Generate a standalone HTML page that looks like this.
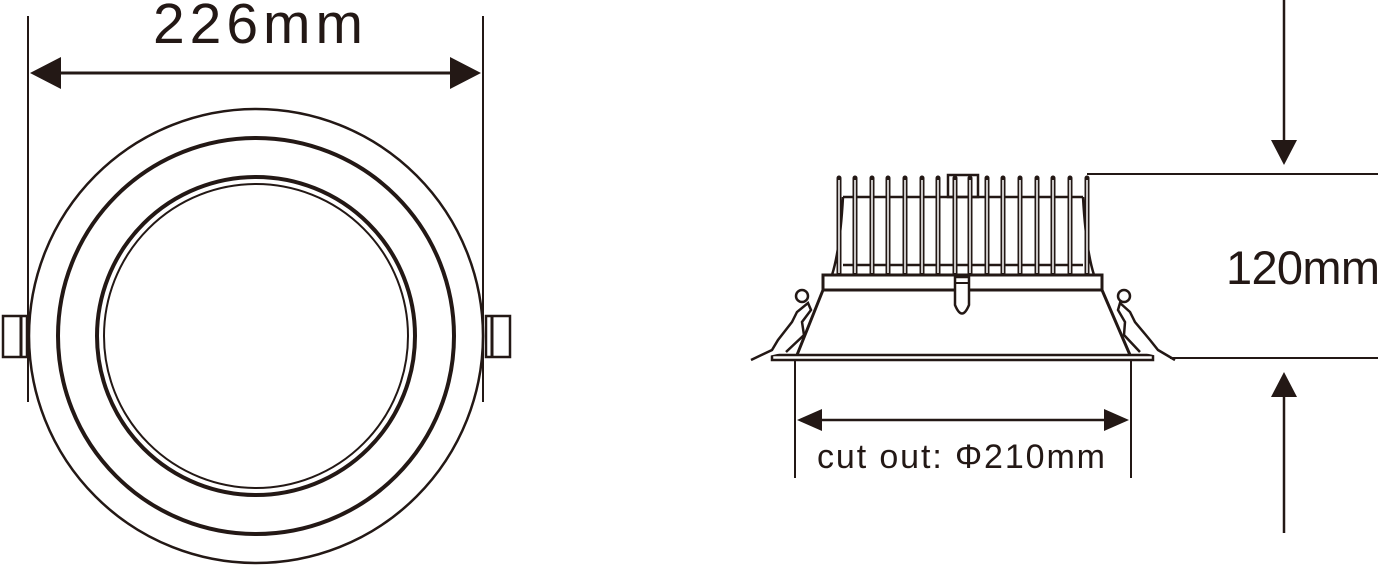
<!DOCTYPE html>
<html><head><meta charset="utf-8"><style>
html,body{margin:0;padding:0;background:#fff;}
svg{display:block;}
text{font-family:"Liberation Sans",Arial,sans-serif;fill:#231815;}
</style></head><body>
<svg width="1380" height="566" viewBox="0 0 1380 566" xmlns="http://www.w3.org/2000/svg">
<g stroke="#231815" fill="none">
<line x1="28" y1="16" x2="28" y2="402" stroke-width="2"/>
<line x1="483" y1="16" x2="483" y2="402" stroke-width="2"/>
<line x1="55" y1="73" x2="458" y2="73" stroke-width="3"/>
<circle cx="256" cy="336" r="227" stroke-width="2.5"/>
<circle cx="256" cy="336" r="198" stroke-width="4"/>
<circle cx="256" cy="336" r="159" stroke-width="4"/>
<circle cx="256" cy="336" r="152" stroke-width="2"/>
<rect x="3" y="316" width="24" height="41" stroke-width="2.5" fill="#fff"/>
<line x1="21" y1="316" x2="21" y2="357" stroke-width="3"/>
<rect x="486" y="316" width="24" height="41" stroke-width="2.5" fill="#fff"/>
<line x1="492" y1="316" x2="492" y2="357" stroke-width="3"/>
</g>
<polygon points="30,73 61,57 61,89" fill="#231815"/>
<polygon points="481,73 450,57 450,89" fill="#231815"/>
<text x="153" y="43" font-size="57" textLength="210" lengthAdjust="spacing">226mm</text>

<g stroke="#231815" fill="none" stroke-width="2">
<line x1="843" y1="197" x2="1083" y2="197" stroke-width="2.5"/>
<line x1="843" y1="265" x2="1083" y2="265" stroke-width="2.5"/>
<path d="M843 197 Q840 250 832 275" stroke-width="2.5"/>
<path d="M1083 197 Q1086 250 1094 275" stroke-width="2.5"/>
<rect x="948" y="175" width="30" height="22" stroke-width="2.5"/>
<g stroke-width="5" stroke-linecap="round">
<line x1="839" y1="178" x2="839" y2="275"/><line x1="855" y1="178" x2="855" y2="275"/>
<line x1="872" y1="178" x2="872" y2="275"/><line x1="888" y1="178" x2="888" y2="275"/>
<line x1="905" y1="178" x2="905" y2="275"/><line x1="922" y1="178" x2="922" y2="275"/>
<line x1="938" y1="178" x2="938" y2="275"/><line x1="955" y1="178" x2="955" y2="275"/>
<line x1="970" y1="178" x2="970" y2="275"/><line x1="987" y1="178" x2="987" y2="275"/>
<line x1="1003" y1="178" x2="1003" y2="275"/><line x1="1020" y1="178" x2="1020" y2="275"/>
<line x1="1037" y1="178" x2="1037" y2="275"/><line x1="1053" y1="178" x2="1053" y2="275"/>
<line x1="1070" y1="178" x2="1070" y2="275"/><line x1="1087" y1="178" x2="1087" y2="275"/>
</g>
<g stroke="#fff" stroke-width="1.5">
<line x1="839" y1="180" x2="839" y2="273"/><line x1="855" y1="180" x2="855" y2="273"/>
<line x1="872" y1="180" x2="872" y2="273"/><line x1="888" y1="180" x2="888" y2="273"/>
<line x1="905" y1="180" x2="905" y2="273"/><line x1="922" y1="180" x2="922" y2="273"/>
<line x1="938" y1="180" x2="938" y2="273"/><line x1="955" y1="180" x2="955" y2="273"/>
<line x1="970" y1="180" x2="970" y2="273"/><line x1="987" y1="180" x2="987" y2="273"/>
<line x1="1003" y1="180" x2="1003" y2="273"/><line x1="1020" y1="180" x2="1020" y2="273"/>
<line x1="1037" y1="180" x2="1037" y2="273"/><line x1="1053" y1="180" x2="1053" y2="273"/>
<line x1="1070" y1="180" x2="1070" y2="273"/><line x1="1087" y1="180" x2="1087" y2="273"/>
</g>
<rect x="823" y="275" width="279" height="15" fill="#fff" stroke-width="3"/>
<path d="M823 290 L797 355 M1102 290 L1130 355" stroke-width="3"/>
<path d="M955 277 L955 305 Q962 322 969 305 L969 277 Z" fill="#fff" stroke-width="2.5"/>
<line x1="955" y1="283" x2="969" y2="283"/>
<rect x="772" y="355" width="381" height="5" fill="#fff" stroke-width="2.5"/>
<path d="M751 360 L772 350 L778 340 L792 322 L797 312 L808 303 L811 310 L802 322 L804 335 L786 352" stroke-width="2.5" fill="#fff"/>
<circle cx="802" cy="296" r="6" stroke-width="2.5" fill="#fff"/>
<path d="M1175 360 L1158 350 L1150 340 L1135 322 L1130 312 L1120 303 L1118 310 L1125 322 L1124 335 L1140 352" stroke-width="2.5" fill="#fff"/>
<circle cx="1124" cy="296" r="6" stroke-width="2.5" fill="#fff"/>
<line x1="1087" y1="174" x2="1378" y2="174"/>
<line x1="1170" y1="358" x2="1378" y2="358"/>
<line x1="1284" y1="0" x2="1284" y2="145" stroke-width="2.5"/>
<line x1="1284" y1="392" x2="1284" y2="533" stroke-width="2.5"/>
<line x1="795" y1="360" x2="795" y2="478"/>
<line x1="1131" y1="360" x2="1131" y2="478"/>
<line x1="815" y1="420" x2="1110" y2="420" stroke-width="2.5"/>
</g>
<polygon points="1284,165 1271,140 1297,140" fill="#231815"/>
<polygon points="1284,372 1271,397 1297,397" fill="#231815"/>
<polygon points="797,420 822,409 822,431" fill="#231815"/>
<polygon points="1129,420 1104,409 1104,431" fill="#231815"/>
<text x="1226" y="284" font-size="47" textLength="154" lengthAdjust="spacing">120mm</text>
<text x="817" y="468" font-size="34" textLength="288" lengthAdjust="spacing">cut out: Φ210mm</text>
</svg>
</body></html>
